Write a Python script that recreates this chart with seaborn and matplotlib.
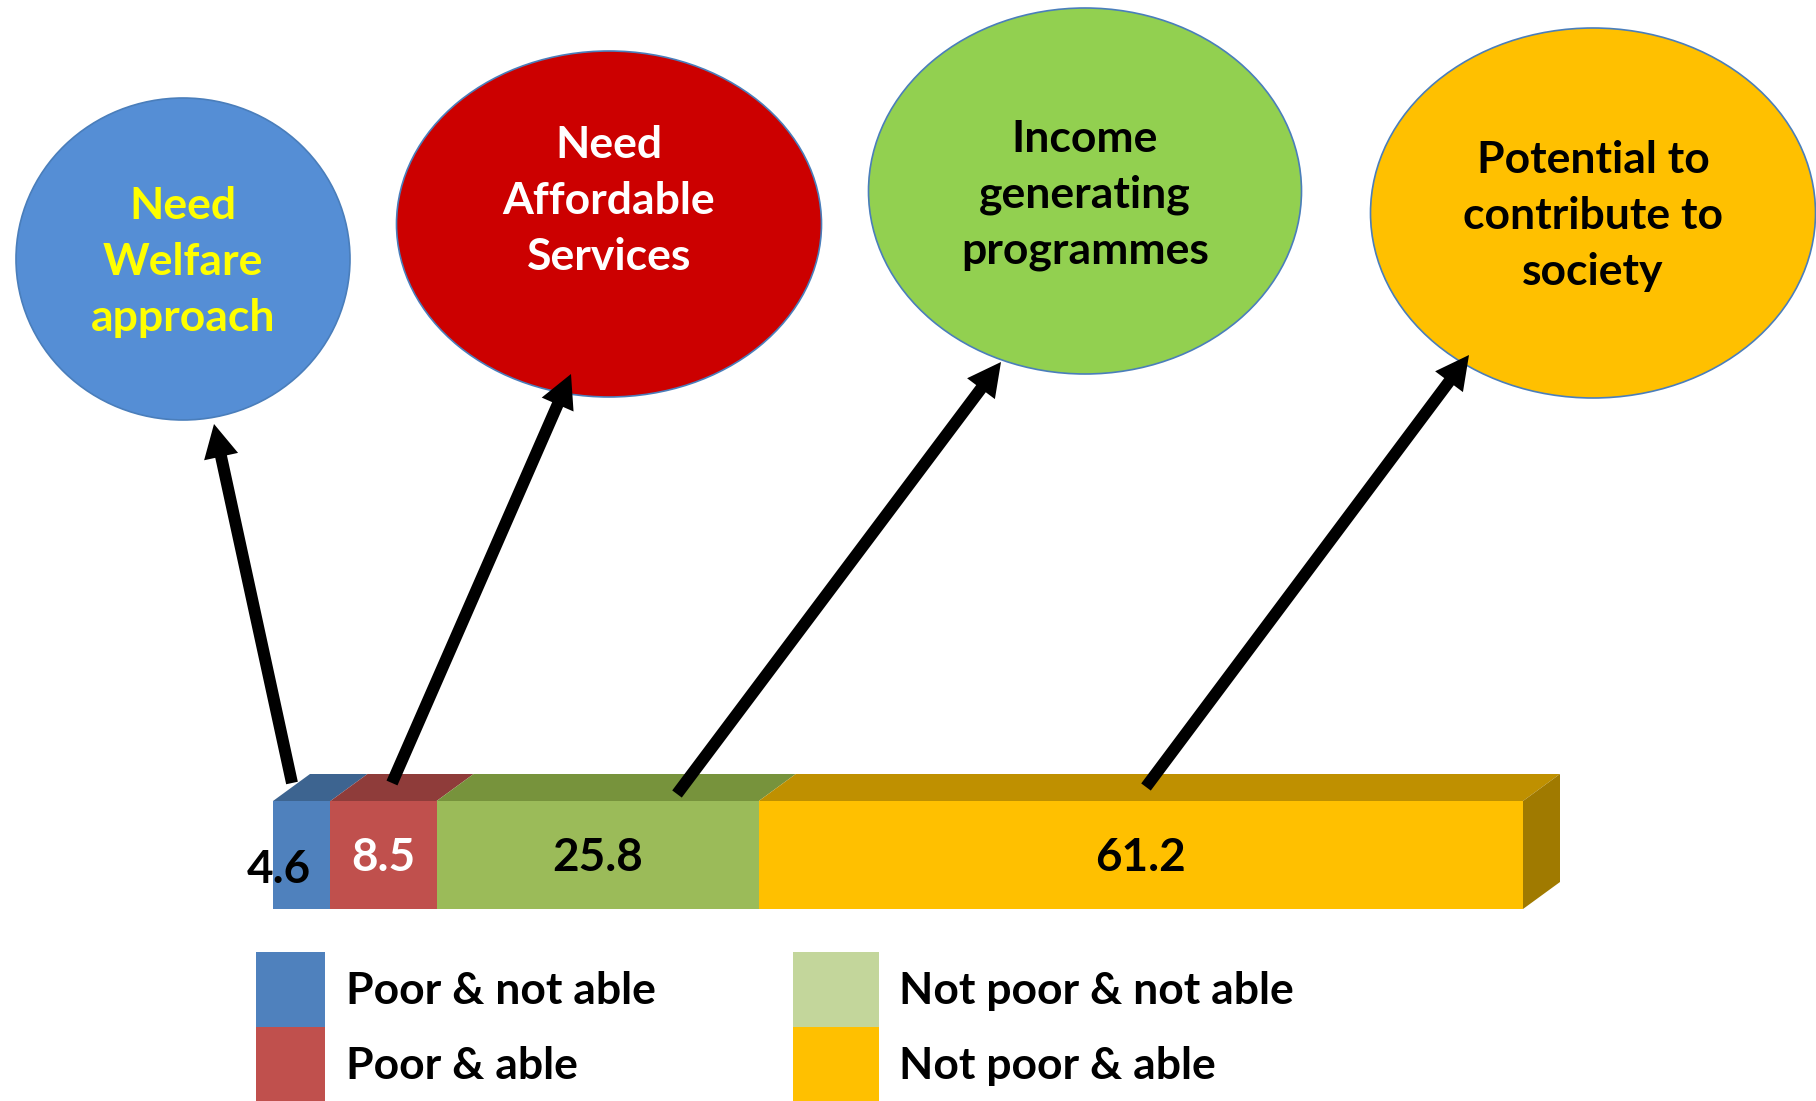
import numpy as np
import pandas as pd
import matplotlib
matplotlib.use("Agg")
import matplotlib.pyplot as plt
import seaborn as sns
from matplotlib.patches import Ellipse, Polygon, Rectangle, FancyArrowPatch

# ---- data ----
groups = ["Poor & not able", "Poor & able", "Not poor & not able", "Not poor & able"]
shares = [4.6, 8.5, 25.8, 61.2]
front_colors = ["#4F81BD", "#C0504D", "#9BBB59", "#FFC000"]
top_colors = ["#3D6490", "#8F3C3A", "#77933C", "#BF9000"]
legend_colors = ["#4F81BD", "#C0504D", "#C3D69B", "#FFC000"]
value_colors = ["black", "white", "black", "black"]

bubble_texts = ["Need\nWelfare\napproach",
                "Need\nAffordable\nServices",
                "Income\ngenerating\nprogrammes",
                "Potential to\ncontribute to\nsociety"]
bubble_colors = ["#558ED5", "#CC0000", "#92D050", "#FFC000"]
bubble_text_colors = ["#FFFF00", "white", "black", "black"]

sns.set_theme(style="white")
plt.rcParams["font.family"] = ["Lato", "DejaVu Sans"]
plt.rcParams["font.weight"] = "bold"

W, H = 1816, 1101
fig = plt.figure(figsize=(W / 100, H / 100), dpi=100)
fig.patch.set_facecolor("white")

# ---- stacked 3-D style bar ----
bar_left, bar_right, bar_top, bar_bottom = 273, 1523, 801, 909
ax = fig.add_axes([bar_left / W, 1 - bar_bottom / H,
                   (bar_right - bar_left) / W, (bar_bottom - bar_top) / H], zorder=2)
cum = np.cumsum(shares)
starts = cum - np.array(shares)
df = pd.DataFrame({"group": groups, "share": shares, "cum": cum, "row": "All"})
for i in reversed(range(len(groups))):
    sns.barplot(data=df.iloc[[i]], x="cum", y="row", color=front_colors[i],
                saturation=1, width=1.0, linewidth=0, errorbar=None, ax=ax)
ax.set_xlim(0, cum[-1])
ax.set_ylim(0.5, -0.5)
ax.axis("off")

px_x = cum[-1] / (bar_right - bar_left)
px_y = 1.0 / (bar_bottom - bar_top)
dx, dy = 37 * px_x, 27 * px_y
for s, e, c in zip(starts, cum, top_colors):
    ax.add_patch(Polygon([(s, -0.5), (e, -0.5), (e + dx, -0.5 - dy), (s + dx, -0.5 - dy)],
                         closed=True, facecolor=c, edgecolor="none", clip_on=False))
ax.add_patch(Polygon([(cum[-1], -0.5), (cum[-1] + dx, -0.5 - dy),
                      (cum[-1] + dx, 0.5 - dy), (cum[-1], 0.5)],
                     closed=True, facecolor="#A07A00", edgecolor="none", clip_on=False))

for i, (s, v) in enumerate(zip(starts, shares)):
    if i == 0:
        xpos, ypos = s + 0.45, 0.14
    else:
        xpos, ypos = s + v / 2, 0.03
    ax.text(xpos, ypos, f"{v}", ha="center", va="center", fontsize=33,
            fontweight="bold", color=value_colors[i], clip_on=False, zorder=5)

# ---- overlay: bubbles, arrows, legend ----
ov = fig.add_axes([0, 0, 1, 1], zorder=5)
ov.set_xlim(0, W)
ov.set_ylim(H, 0)
ov.axis("off")
ov.patch.set_alpha(0)

bubble_geom = [((183, 259), 334, 322, 262),
               ((609, 224), 425, 346, 201),
               ((1085, 191), 433, 366, 195),
               ((1593, 213), 445, 370, 216)]
for (center, w, h, ty), fc, txt, tc in zip(bubble_geom, bubble_colors, bubble_texts, bubble_text_colors):
    ov.add_patch(Ellipse(center, w, h, facecolor=fc, edgecolor="#4A7EBB", linewidth=1.2))
    ov.text(center[0], ty, txt, ha="center", va="center", fontsize=32,
            fontweight="bold", color=tc, linespacing=1.48)

arrows = [((292, 783), (214, 424)),
          ((392, 783), (571, 374)),
          ((677, 794), (1001, 362)),
          ((1146, 787), (1469, 355))]
for tail, tip in arrows:
    ov.add_patch(FancyArrowPatch(tail, tip,
                                 arrowstyle="simple,head_width=25,head_length=24,tail_width=8.6",
                                 mutation_scale=1, shrinkA=0, shrinkB=0,
                                 facecolor="black", edgecolor="none"))

legend_cells = [(256, 952, 69, 75), (256, 1027, 69, 76), (793, 952, 86, 75), (793, 1027, 86, 76)]
legend_text_pos = [(346, 991), (346, 1066), (899, 991), (899, 1066)]
for (x, y, w, h), c, (tx, ty), g in zip(legend_cells, legend_colors, legend_text_pos, groups):
    ov.add_patch(Rectangle((x, y), w, h, facecolor=c, edgecolor="none"))
    ov.text(tx, ty, g, ha="left", va="center", fontsize=32, fontweight="bold", color="black")

fig.savefig("out.png", dpi=100)
